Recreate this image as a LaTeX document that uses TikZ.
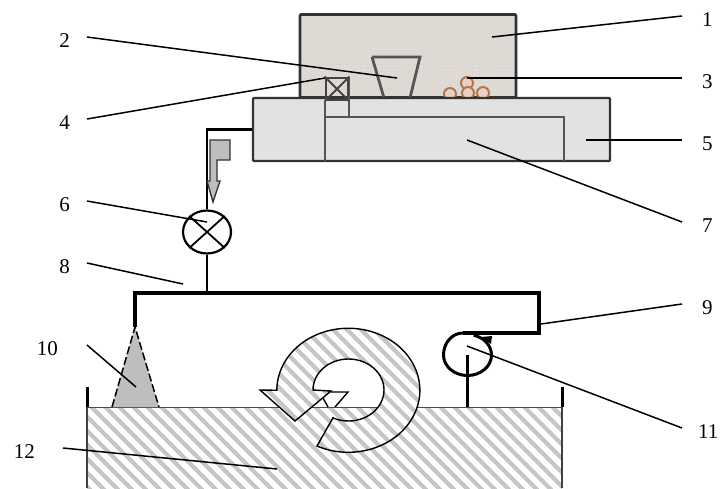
\documentclass[tikz,border=0pt]{standalone}
\usepackage{fontspec}
\setmainfont{Liberation Serif}
\usetikzlibrary{shapes.geometric,patterns.meta}
\definecolor{hopcolor}{RGB}{224,218,213}
\definecolor{traycolor}{RGB}{226,226,226}
\definecolor{edgecolor}{RGB}{85,85,85}
\definecolor{ballcolor}{RGB}{205,140,100}
\definecolor{conecolor}{RGB}{190,190,190}
\definecolor{hatchcolor}{RGB}{198,198,198}

\begin{document}
\begin{tikzpicture}[x=1pt,y=-1pt,
  numr/.style={anchor=west, inner xsep=20pt, inner ysep=0pt, text height=20pt, text depth=0pt, font=\fontsize{21}{21}\selectfont},
  numl/.style={anchor=east, inner xsep=17pt, inner ysep=0pt, text height=20pt, text depth=0pt, font=\fontsize{21}{21}\selectfont},
  lead/.style={line width=1.5pt},
  pipe/.style={line width=2.2pt},
  inpipe/.style={line width=2.8pt, edgecolor},
  hatchfill/.style={pattern={Lines[angle=-45,distance=10.5pt,line width=4.5pt]}, pattern color=hatchcolor}
]
  \useasboundingbox (0,0) rectangle (720,488);

  % hopper and tray
  \node[draw=black!80, line width=2.8pt, rounded corners=1pt, minimum width=216pt, minimum height=83pt, inner sep=0pt,
        preaction={fill=hopcolor},
        preaction={pattern={Dots[distance=3.5pt,radius=.6pt]}, pattern color=black!18}] (hop) at (408,56) {};
  \begin{scope}
    \clip (440,60) rectangle (500,97);
    \foreach \bx/\by in {467/83, 450/94, 468/93, 483/93}
      \draw[ballcolor!85!black, line width=2pt, fill=ballcolor!40] (\bx,\by) circle (6);
  \end{scope}
  \draw[inpipe] (372,57) -- (420,57) -- (410,98) (372,57) -- (384,98);
  \node[draw=black!80, line width=2.2pt, rounded corners=1pt, fill=traycolor, minimum width=357pt, minimum height=63pt, inner sep=0pt] (tray) at (431.5,129.5) {};
  \draw[inpipe] (325,161) -- (325,117) -- (564,117) -- (564,161);
  \draw[inpipe] (349,117) -- (349,78);
  \node[draw=edgecolor!80!black, line width=2.8pt, minimum size=22pt, inner sep=0pt] (gate) at (337,89) {};
  \draw[edgecolor!80!black, line width=1.8pt] (gate.north west) -- (gate.south east) (gate.north east) -- (gate.south west);
  \draw[inpipe] (325,100) -- (325,117);

  % supply line
  \node[draw, ellipse, line width=2.2pt, minimum width=48pt, minimum height=43pt, inner sep=0pt] (valve) at (207,232) {};
  \draw[line width=1.8pt] (valve.north west) -- (valve.south east) (valve.north east) -- (valve.south west);
  \coordinate (hl) at (135,293);
  \coordinate (hr) at (539,293);
  \draw[pipe] (tray.west) -| (valve.north);
  \draw[pipe] (valve.south) -- (207,293);
  \draw[draw=black!80, fill=conecolor, line width=1.4pt] (210,140) -- (230,140) -- (230,160) -- (217,160) -- (217,181) -- (220,181) -- (213,202) -- (207,181) -- (210,181) -- cycle;

  % bath
  \fill[white] (87,407) rectangle (562,488);
  \fill[hatchfill] (87,407) rectangle (562,488);
  \draw[black!70, line width=1pt] (87,407) -- (562,407);
  \draw[line width=3pt] (87,387) -- (87,407);
  \draw[line width=3pt] (562,387) -- (562,407);
  \draw[black!75, line width=1.8pt] (87,407) -- (87,488);
  \draw[black!75, line width=1.8pt] (562,407) -- (562,488);

  % nozzles and header
  \coordinate (tipl) at (135,327);
  \draw[fill=conecolor, dash pattern=on 8pt off 3pt, line width=1.5pt] (112,407) -- (tipl) -- (159,407);
  \draw[line width=3.5pt, line join=miter] (tipl) -- (hl) -- (hr) -- (539,333) -- (463,333);
  \draw[line width=3pt] (463,333) to[out=180,in=90] (443.5,355) arc[start angle=180, end angle=-75, x radius=24, y radius=20.5];
  \fill (481,337) -- (492,336) -- (491,344) -- cycle;
  \draw[line width=3pt] (467,355) -- (467,407);

  % swirl
  \draw[preaction={fill=white}, hatchfill, line width=1.4pt, draw=black, line join=miter]
    (317,446) arc[start angle=116, end angle=-180, x radius=71.5, y radius=62]
    -- (260,390) -- (295,421) -- (331,391) -- (313,390)
    arc[start angle=-180, end angle=116, x radius=35.5, y radius=31] -- cycle;
  \draw[line width=1.4pt] (331,392) -- (348,392) -- (335,407);
  \draw[line width=1.4pt] (323,398) -- (328,407);

  % labels
  \node[numr] (n1) at (682,16) {1};
  \node[numl] (n2) at (87,37) {2};
  \node[numr] (n3) at (682,78) {3};
  \node[numl] (n4) at (87,119) {4};
  \node[numr] (n5) at (682,140) {5};
  \node[numl] (n6) at (87,201) {6};
  \node[numr] (n7) at (682,222) {7};
  \node[numl] (n8) at (87,263) {8};
  \node[numr] (n9) at (682,304) {9};
  \node[numl, inner xsep=29pt] (n10) at (87,345) {10};
  \node[numr, inner xsep=16pt] (n11) at (682,428) {11};
  \node[numl, inner xsep=28pt] (n12) at (63,448) {12};

  \coordinate (t1) at (492,37);
  \coordinate (t2) at (397,78);
  \coordinate (t3) at (467,78);
  \coordinate (t4) at (325,78);
  \coordinate (t5) at (586,140);
  \coordinate (t6) at (207,222);
  \coordinate (t7) at (467,140);
  \coordinate (t8) at (183,284);
  \coordinate (t9) at (541,324);
  \coordinate (t10) at (136,387);
  \coordinate (t11) at (467,346);
  \coordinate (t12) at (277,469);
  \foreach \i/\a in {1/west,2/east,3/west,4/east,5/west,6/east,7/west,8/east,9/west,10/east,11/west,12/east}
    \draw[lead] (n\i.\a) -- (t\i);
\end{tikzpicture}
\end{document}
